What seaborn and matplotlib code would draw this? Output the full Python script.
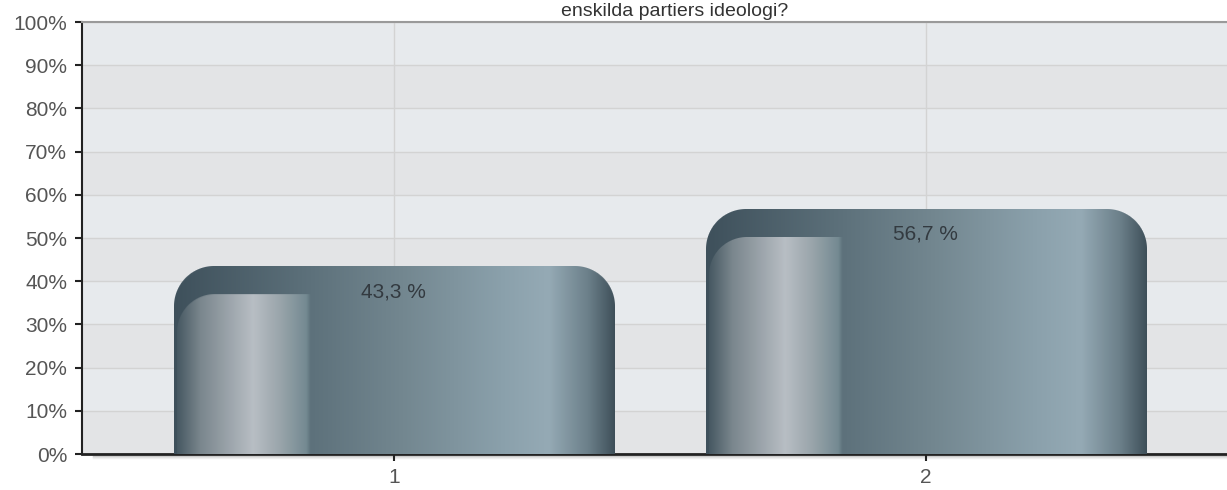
import numpy as np
import pandas as pd
import matplotlib
matplotlib.use("Agg")
import matplotlib.pyplot as plt
import matplotlib.transforms as mtransforms
import seaborn as sns

# ---- data ----
categories = ["1", "2"]
values = [43.3, 56.7]
value_labels = ["43,3 %", "56,7 %"]
y_ticks = [0, 10, 20, 30, 40, 50, 60, 70, 80, 90, 100]
y_tick_labels = ["0%", "10%", "20%", "30%", "40%", "50%", "60%", "70%", "80%", "90%", "100%"]
title_text = "enskilda partiers ideologi?"

plt.rcParams["font.family"] = ["Liberation Sans", "DejaVu Sans"]

W_PX, H_PX = 1227, 490
fig = plt.figure(figsize=(W_PX / 100, H_PX / 100), dpi=100)
ax = fig.add_axes([82 / W_PX, 1 - 454 / H_PX, 1 - 82 / W_PX, (454 - 22) / H_PX])

df = pd.DataFrame({"kategori": categories, "andel": values})
sns.barplot(data=df, x="kategori", y="andel", width=0.827, ax=ax,
            color="#5d717b", saturation=1, zorder=3)

XLIM = (-0.586, 1.566)
ax.set_xlim(*XLIM)
ax.set_ylim(0, 100)

# background bands
light, dark = "#e7eaed", "#e3e4e6"
for k in range(10):
    ax.axhspan(10 * k, 10 * k + 10, color=dark if k % 2 == 0 else light,
               zorder=0.1, lw=0)

ax.set_axisbelow(True)
ax.grid(True, axis="both", color="#d3d3d3", lw=1)

ax.set_yticks(y_ticks)
ax.set_yticklabels(y_tick_labels)
ax.set_xlabel("")
ax.set_ylabel("")

ax.spines["right"].set_visible(False)
ax.spines["top"].set_color("#9a9a9a")
ax.spines["top"].set_linewidth(1.5)
ax.spines["left"].set_color("#222222")
ax.spines["left"].set_linewidth(1.5)
ax.spines["bottom"].set_color("#222222")
ax.spines["bottom"].set_linewidth(2)

# soft shadow under the x axis line
for i, c in enumerate(["#c8c8c8", "#dedede", "#eeeeee"]):
    off = mtransforms.offset_copy(ax.transAxes, fig=fig, x=0, y=-(2 + i) * 0.72,
                                  units="points")
    ax.plot([0.01, 1], [0, 0], transform=off, color=c, lw=1, clip_on=False,
            zorder=0.05)

ax.tick_params(axis="y", length=5, width=1.5, color="#222222",
               labelcolor="#555555", labelsize=15, pad=5.8)
ax.tick_params(axis="x", length=5, width=1.5, color="#222222",
               labelcolor="#555555", labelsize=15, pad=5)

fig.text(675 / W_PX, 1 - 16 / H_PX, title_text, ha="center", va="baseline",
         fontsize=14, color="#333333")

# ---- gradient fill for the bars ----
def hex2rgb(h):
    h = h.lstrip("#")
    return np.array([int(h[i:i + 2], 16) / 255 for i in (0, 2, 4)])

body_stops = [(0.0, "#3e505b"), (0.31, "#5d717b"), (0.52, "#738790"),
              (0.75, "#8ba1ac"), (0.85, "#95aab5"), (0.94, "#6b7f89"),
              (1.0, "#3e4f59")]
hl_stops = [(0.0, "#3f525c"), (0.06, "#7a868d"), (0.18, "#b8bec4"),
            (0.24, "#9aa5ab"), (0.30, "#748a92"), (0.31, "#5d717b")]

def interp(stops, u):
    pos = np.array([s[0] for s in stops])
    cols = np.array([hex2rgb(s[1]) for s in stops])
    return np.stack([np.interp(u, pos, cols[:, c]) for c in range(3)], axis=-1)

def corner_alpha(X, Y, cx, cy, r, region):
    d = np.hypot(X - cx, Y - cy)
    a = np.clip(r - d + 0.5, 0, 1)
    return np.where(region, a, 1.0)

fig.canvas.draw()
bars = [p for p in ax.patches
        if p.get_height() > 0 and abs(p.get_width() - 0.827) < 1e-6]
for p in bars:
    bb = p.get_window_extent()
    Wp = int(round(bb.width))
    Hp = int(round(bb.height))
    x0, w, h = p.get_x(), p.get_width(), p.get_height()
    X, Y = np.meshgrid(np.arange(Wp) + 0.5, np.arange(Hp) + 0.5)
    U = X / Wp
    body = interp(body_stops, U)
    hl = interp(hl_stops, np.minimum(U, 0.31))
    # highlight mask
    hx0, hy0, hr = 3.0, 28.0, 38.0
    hx1 = 0.31 * Wp
    hm = ((X >= hx0) & (Y >= hy0)).astype(float)
    hm *= np.clip((hx1 - X) / 3.0 + 0.5, 0, 1)
    hm *= corner_alpha(X, Y, hx0 + hr, hy0 + hr, hr, (X < hx0 + hr) & (Y < hy0 + hr))
    rgb = body * (1 - hm[..., None]) + hl * hm[..., None]
    # outer rounded top corners
    r = 40.0
    a = corner_alpha(X, Y, r, r, r, (X < r) & (Y < r))
    a *= corner_alpha(X, Y, Wp - r, r, r, (X > Wp - r) & (Y < r))
    img = np.dstack([rgb, a])
    ax.imshow(img, extent=(x0, x0 + w, 0, h), origin="upper", aspect="auto",
              interpolation="bilinear", zorder=3)
    p.set_visible(False)

for p, lab in zip(bars, value_labels):
    ax.annotate(lab, xy=(p.get_x() + p.get_width() / 2, p.get_height()),
                xytext=(0, -18), textcoords="offset points", ha="center",
                va="center", fontsize=15, color="#333a40", zorder=5)

ax.set_xlim(*XLIM)
ax.set_ylim(0, 100)

fig.savefig("out.png", dpi=100)
